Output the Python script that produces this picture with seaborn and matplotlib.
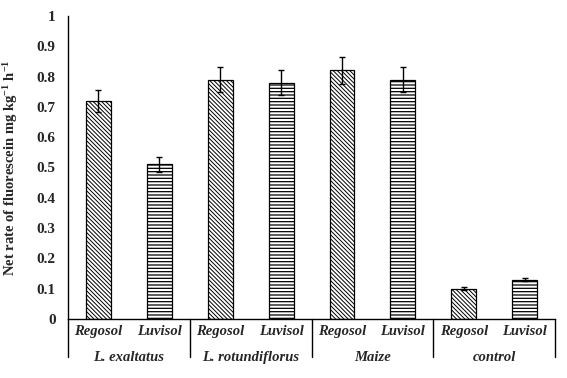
import seaborn as sns
import numpy as np
import pandas as pd
import matplotlib.pyplot as plt
import matplotlib.transforms as mtransforms

sns.set_style('white')
plt.rcParams['font.family'] = ['Liberation Serif', 'DejaVu Serif']
plt.rcParams['hatch.linewidth'] = 0.9
plt.rcParams['mathtext.fontset'] = 'custom'
plt.rcParams['mathtext.rm'] = 'Liberation Serif:bold'
plt.rcParams['mathtext.bf'] = 'Liberation Serif:bold'
plt.rcParams['mathtext.it'] = 'Liberation Serif:bold'

groups = ['L. exaltatus', 'L. rotundiflorus', 'Maize', 'control']
soils = ['Regosol', 'Luvisol']
regosol_vals = [0.72, 0.79, 0.82, 0.10]
regosol_err = [0.037, 0.040, 0.045, 0.005]
luvisol_vals = [0.51, 0.78, 0.79, 0.13]
luvisol_err = [0.025, 0.040, 0.040, 0.005]
yticks = [0, 0.1, 0.2, 0.3, 0.4, 0.5, 0.6, 0.7, 0.8, 0.9, 1]
ytick_labels = ['0', '0.1', '0.2', '0.3', '0.4', '0.5', '0.6', '0.7', '0.8', '0.9', '1']

df = pd.DataFrame({
    'group': groups * 2,
    'soil': ['Regosol'] * 4 + ['Luvisol'] * 4,
    'value': regosol_vals + luvisol_vals,
})
errs = {'Regosol': regosol_err, 'Luvisol': luvisol_err}
hatches = {'Regosol': '\\' * 8, 'Luvisol': '-----'}

fig = plt.figure(figsize=(5.67, 3.78), dpi=100)
ax = fig.add_axes([0.12, 0.156, 0.859, 0.802])

sns.barplot(data=df, x='group', y='value', hue='soil', order=groups,
            hue_order=soils, palette=['white', 'white'], edgecolor='black',
            linewidth=0.9, width=1.0, gap=0.59, errorbar=None, legend=False, ax=ax)

for soil, cont in zip(soils, ax.containers):
    xs = []
    for bar in cont:
        bar.set_hatch(hatches[soil])
        bar.set_edgecolor('black')
        if soil == 'Regosol':
            try:
                bar.set_hatch_linewidth(0.7)
            except AttributeError:
                pass
        xs.append(bar.get_x() + bar.get_width() / 2)
    vals = [b.get_height() for b in cont]
    ax.errorbar(xs, vals, yerr=errs[soil], fmt='none', ecolor='black',
                elinewidth=1.0, capsize=2.5, capthick=1.0)
    for x in xs:
        ax.text(x, -0.042, soil, ha='center', va='center', fontsize=10.5,
                fontweight='bold', fontstyle='italic')

for i, g in enumerate(groups):
    ax.text(i, -0.127, g, ha='center', va='center', fontsize=10.5,
            fontweight='bold', fontstyle='italic')

trans = mtransforms.blended_transform_factory(ax.transData, ax.transAxes)
for x in [-0.5, 0.5, 1.5, 2.5, 3.5]:
    ax.plot([x, x], [0, -0.125], transform=trans, color='black', lw=1.0, clip_on=False)

ax.set_xlim(-0.5, 3.5)
ax.set_ylim(0, 1)
ax.set_xticks([])
ax.set_yticks(yticks)
ax.set_yticklabels(ytick_labels, fontsize=11, fontweight='bold')
ax.tick_params(axis='y', length=0, pad=9)
ax.set_xlabel('')
ax.set_ylabel('Net rate of fluorescein mg kg$^{-1}$ h$^{-1}$',
              fontsize=10.5, fontweight='bold')
ax.yaxis.set_label_coords(-0.098, 0.5)
sns.despine(ax=ax)
ax.spines['left'].set_color('black')
ax.spines['bottom'].set_color('black')
ax.spines['left'].set_linewidth(1.0)
ax.spines['bottom'].set_linewidth(1.0)

plt.savefig('out.png', dpi=100)
plt.close()
